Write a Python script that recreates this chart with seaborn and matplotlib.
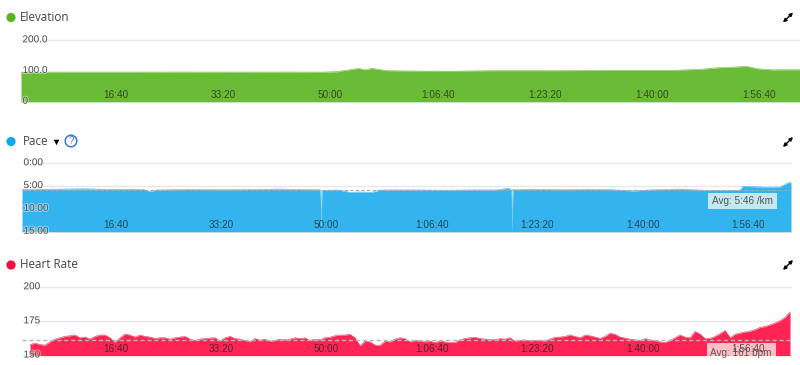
import numpy as np
import matplotlib
matplotlib.use("Agg")
import matplotlib.pyplot as plt
import matplotlib.patheffects as pe
from matplotlib.patches import Circle, Rectangle
from matplotlib.transforms import ScaledTranslation
import seaborn as sns

# ==========================================
# DATA
# ==========================================

time_ticks = [1000, 2000, 3000, 4000, 5000, 6000, 7000]
time_labels = ["16:40", "33:20", "50:00", "1:06:40", "1:23:20", "1:40:00", "1:56:40"]

elev_ticks = [0, 100, 200]
elev_labels = ["0", "100.0", "200.0"]
elev_seconds = [0, 500, 1000, 1500, 2000, 2500, 2800, 2950, 3147, 3210, 3273, 3414, 3600,
                4000, 4400, 5000, 5500, 6000, 6150, 6350, 6500, 6600, 6772, 6866, 7000, 7267]
elev_values = [96, 95.5, 95.5, 96, 95.5, 96, 95.5, 97.7, 108.6, 104, 108.6, 101, 100,
               99, 101, 101, 102, 102, 103, 106, 110.7, 112, 115, 107.5, 104, 104]

pace_ticks = [0, 5, 10, 15]
pace_labels = ["0:00", "5:00", "10:00", "15:00"]
pace_avg = 5.77
pace_seconds = [0, 100, 200, 400, 600, 800, 1000, 1150, 1213, 1280, 1600, 1900, 2200, 2450, 2600,
                2825, 2834, 2843, 3000, 3109, 3200, 3318, 3400, 3700, 4000, 4300, 4500, 4607,
                4636, 4645, 4654, 4800, 5100, 5400, 5600, 5791, 5950, 6237, 6493, 6700, 6806,
                6834, 6950, 7062, 7185, 7261, 7290]
pace_values = [5.8, 5.75, 5.7, 5.65, 5.6, 5.7, 5.7, 5.75, 6.2, 5.85, 5.75, 5.8, 5.75, 5.65, 5.75,
               5.8, 15, 5.95, 5.85, 6.36, 6.3, 6.36, 5.85, 5.85, 5.9, 5.85, 5.85, 5.48,
               5.8, 15, 5.8, 5.7, 5.8, 5.75, 5.8, 6.07, 5.85, 5.65, 5.95, 5.95, 5.9,
               5.05, 5.15, 5.25, 5.2, 4.3, 4.2]

hr_ticks = [150, 175, 200]
hr_labels = ["150", "175", "200"]
hr_avg = 161
hr_bpm = [158, 159, 158, 157.6, 160, 162, 163, 164, 164.5, 165, 163, 163.5, 162, 164, 165, 165,
          163, 159.5, 163, 165.7, 165, 163.5, 165, 164, 163.5, 162.5, 163, 163, 162, 163, 163.5,
          164, 162, 161, 162, 162.4, 162.8, 163, 160.5, 163, 164, 162.4, 162, 161, 160, 162.5,
          161.2, 162, 160.5, 161, 162, 161.4, 162, 163, 162.4, 163, 161, 162, 161.5, 163, 163.4,
          164.5, 165, 165, 165.5, 163, 157, 160.5, 160, 157.6, 157.5, 160.5, 160, 162, 163,
          162.4, 160, 161, 160.5, 160, 160.5, 159.5, 160.5, 160, 159.5, 159.5, 161.5, 162.5, 163,
          163.4, 162.4, 162, 161.8, 161.5, 162.4, 162, 163, 160.5, 161.2, 161.4, 160.8, 161, 161,
          160.6, 162, 163.4, 163.5, 164, 165, 164, 163, 165, 164.5, 163.5, 162.5, 164, 166.3,
          165.5, 163.5, 162.8, 162, 161.5, 161, 162.4, 161.5, 160.8, 160, 159.5, 161, 163, 165,
          163.5, 163, 167.6, 165.7, 162.5, 162.5, 164, 166, 168.4, 163, 165.5, 166.5, 167.2,
          167.8, 169, 170.6, 171.2, 172.5, 173.8, 175.5, 177.9, 182]
hr_seconds = 76 + 47.4 * np.arange(len(hr_bpm))

# ==========================================
# STYLE
# ==========================================

sns.set_style("white")
plt.rcParams["font.family"] = ["Liberation Sans", "DejaVu Sans"]

GREEN = "#6abb35"
BLUE = "#33b4ee"
RED = "#ff2453"
GRID = "#e8e8e8"
W, H = 800, 365

fig = plt.figure(figsize=(8, 3.65), dpi=100)


def make_panel(left, right, top, bottom, xmax, ylim, yticks, ylabels, seconds, values, color, xlabel_up):
    ax = fig.add_axes([left / W, 1 - bottom / H, (right - left) / W, (bottom - top) / H])
    ax.set_facecolor("none")
    sns.lineplot(x=seconds, y=values, ax=ax, color=color, linewidth=0.4, zorder=1.5)
    ax.fill_between(seconds, values, ylim[0], color=color, linewidth=0, zorder=1)
    ax.hlines(yticks, 0, 1, transform=ax.get_yaxis_transform(), color=GRID, linewidth=1, zorder=0.5, clip_on=False)
    ax.set_xlim(0, xmax)
    ax.set_ylim(*ylim)
    ax.set_xticks(time_ticks)
    ax.set_xticklabels(time_labels)
    ax.set_yticks(yticks)
    ax.set_yticklabels(ylabels)
    ax.tick_params(length=0, pad=0)
    ax.set_axisbelow(False)
    sns.despine(ax=ax, left=True, bottom=True)

    x_off = ScaledTranslation(-12 / 100, xlabel_up / 100, fig.dpi_scale_trans)
    for lab in ax.get_xticklabels():
        lab.set_transform(lab.get_transform() + x_off)
        lab.set_va("center")
        lab.set_fontsize(7.2)
        lab.set_color("#222222")
        lab.set_alpha(0.75)

    y_off = ScaledTranslation(1.5 / 100, 2 / 100, fig.dpi_scale_trans)
    for lab in ax.get_yticklabels():
        lab.set_transform(lab.get_transform() + y_off)
        lab.set_ha("left")
        lab.set_fontsize(7.2)
        lab.set_color("#555555")
        lab.set_path_effects([pe.withStroke(linewidth=1.5, foreground="white", alpha=0.45)])
    return ax


# ==========================================
# PANELS
# ==========================================

ax_elev = make_panel(21, 800, 40.3, 101.7, 7267, (0, 200), elev_ticks, elev_labels,
                     elev_seconds, elev_values, GREEN, 6.7)
ax_pace = make_panel(22, 791, 163.3, 231.7, 7290, (15, 0), pace_ticks, pace_labels,
                     pace_seconds, pace_values, BLUE, 6.7)
ax_hr = make_panel(22, 791, 287.3, 355.5, 7290, (150, 200), hr_ticks, hr_labels,
                   hr_seconds, hr_bpm, RED, 6.8)

ax_pace.axhline(pace_avg, color="#a8a8a8", linewidth=0.8, linestyle=(0, (3, 2)), zorder=3)
ax_hr.axhline(hr_avg, color="#b5b5b5", linewidth=1, linestyle=(0, (3, 2)), zorder=3)

# overlay in pixel coordinates for the header bits
over = fig.add_axes([0, 0, 1, 1])
over.set_xlim(0, W)
over.set_ylim(H, 0)
over.axis("off")
over.set_zorder(5)

# avg boxes
ax_pace.add_patch(Rectangle((708, 193), 69, 16, transform=over.transData, facecolor="#c4e8f0",
                            edgecolor="none", zorder=2, clip_on=False))
ax_hr.add_patch(Rectangle((707, 343), 69, 17, transform=over.transData, facecolor=(1, 0.98, 0.95, 0.72),
                          edgecolor="none", zorder=2, clip_on=False))
over.text(742.5, 201.5, "Avg: 5:46 /km", fontsize=7.2, color="#555555", ha="center", va="center")
over.text(741, 352.5, "Avg: 161 bpm", fontsize=7.2, color="#444444", alpha=0.85, ha="center", va="center")

# headers
headers = [("Elevation", 11, 17.5, 20, "#5ab31f"),
           ("Pace", 11, 141.5, 23, "#11a9ed"),
           ("Heart Rate", 11, 265, 20, "#ff0a3c")]
for name, mx, my, tx, col in headers:
    over.add_patch(Circle((mx, my), 4.6, facecolor=col, edgecolor="none"))
    over.text(tx, my, name, fontsize=8.4, color="#444444", family=["Open Sans", "DejaVu Sans"],
              ha="left", va="center")

# pace dropdown + help icon
over.scatter([56], [142], marker="v", s=16, color="black", linewidths=0)
over.add_patch(Circle((71, 141), 5.8, facecolor="white", edgecolor="#3b78d8", linewidth=1.1))
over.text(71, 141, "?", fontsize=7, color="#3b78d8", ha="center", va="center")

# expand icons
for iy in [17.5, 142, 265]:
    over.annotate("", xy=(793, iy - 5), xytext=(783, iy + 5),
                  arrowprops=dict(arrowstyle="<|-|>", color="black", linewidth=1, mutation_scale=5,
                                  shrinkA=0, shrinkB=0))

fig.savefig("out.png", dpi=100)
